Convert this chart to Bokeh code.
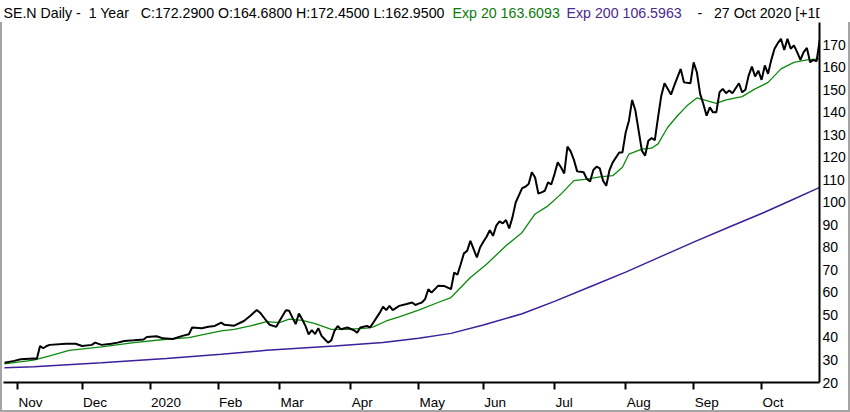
from bokeh.plotting import figure
from bokeh.models import Range1d, FixedTicker, Label
from bokeh.layouts import column
from bokeh.embed import file_html
from bokeh.resources import INLINE

# ---- data (trading-day index from 28 Oct 2019 = 0 to 27 Oct 2020 = 252) ----
close_day = [0, 3, 5, 9, 10, 11, 12, 13, 14, 19, 22, 24, 27, 28, 30, 33, 35, 37, 40, 43, 44, 47, 49, 52, 55, 57, 58, 61, 63, 65,
             67, 68, 71, 74, 76, 78, 79, 81, 82, 84, 85, 87, 88, 89, 90, 91, 92, 93, 94, 95, 96, 97, 98, 99, 100, 101, 102, 103, 104,
             106, 108, 109, 110, 112, 113, 115, 116, 117, 118, 119, 120, 122, 124, 126, 127, 128, 129, 130, 131, 132, 134, 136, 138,
             139, 140, 141, 142, 143, 144, 145, 146, 147, 148, 149, 150, 151, 152, 153, 154, 155, 156, 157, 158, 160, 161, 162, 163,
             164, 165, 166, 167, 168, 169, 170, 171, 172, 173, 174, 175, 176, 177, 178, 179, 180, 181, 182, 183, 184, 185, 186, 187,
             188, 190, 191, 192, 193, 194, 195, 196, 197, 198, 199, 200, 201, 202, 203, 204, 206, 207, 209, 210, 212, 213, 214, 215,
             216, 217, 218, 219, 220, 221, 222, 223, 224, 225, 227, 228, 229, 230, 231, 232, 233, 234, 235, 236, 237, 238, 239, 240,
             241, 242, 243, 244, 245, 246, 247, 248, 249, 250, 251, 252]
close_val = [28.8, 29.6, 30.3, 30.7, 30.5, 36.2, 35.2, 36.2, 36.7, 37.2, 37.2, 36.2, 36.7, 37.7, 36.7, 37.2, 37.7, 38.4, 38.7, 39.1, 40.2, 40.5, 39.6, 39.3, 40.7, 41.4, 44.4, 44.1, 44.7, 45.1,
             46.6, 45.6, 45.2, 47.3, 49.6, 52.2, 51.0, 47.3, 45.6, 44.7, 47.3, 52.1, 51.8, 48.8, 45.9, 50.6, 48.1, 45.2, 41.4, 43.2, 41.5, 44.1, 40.7, 39.2, 37.7, 38.7, 42.9, 45.1, 43.6,
             44.4, 43.2, 42.1, 44.4, 45.1, 44.4, 48.8, 51.0, 53.6, 52.1, 54.0, 52.1, 54.0, 54.7, 55.5, 54.4, 55.0, 55.5, 57.0, 61.4, 59.9, 62.9, 62.8, 61.4,
             68.8, 67.8, 72.5, 77.3, 78.4, 82.9, 79.2, 75.5, 79.9, 82.5, 84.7, 87.6, 85.1, 89.6, 91.5, 90.6, 92.1, 88.4, 93.3, 99.9, 106.3, 106.9, 108.1, 113.3,
             111.0, 103.9, 104.4, 105.1, 108.8, 107.9, 112.5, 117.7, 115.5, 112.8, 124.7, 122.6, 118.8, 113.7, 113.5, 113.3, 110.3, 109.2, 114.3, 115.8, 115.0, 109.6, 107.3, 114.3,
             117.7, 122.1, 122.1, 131.0, 136.2, 145.4, 140.7, 131.8, 122.9, 120.7, 127.3, 128.5, 127.6, 137.7, 147.3, 152.8, 147.8, 151.8, 159.2, 153.2, 152.8, 162.1, 157.7, 148.1,
             143.6, 138.4, 142.1, 139.9, 139.9, 148.8, 150.3, 148.4, 149.6, 148.4, 152.8, 148.8, 149.9, 156.2, 160.2, 155.8, 158.4, 154.3, 160.7, 157.0, 163.2, 168.1, 170.6, 172.5,
             167.6, 172.5, 168.1, 169.6, 166.6, 163.2, 166.6, 168.5, 162.1, 163.2, 162.6, 172.3]

exp20_day = [0, 9, 14, 20, 30, 40, 50, 57, 61, 67, 71, 76, 81, 85, 88, 92, 96, 101, 106, 112, 114, 118, 122, 128, 134, 138,
             144, 149, 155, 160, 164, 168, 172, 176, 180, 184, 188, 191, 193, 197, 200, 202, 205, 208, 211, 214, 217, 220,
             223, 228, 232, 236, 240, 244, 248, 252]
exp20_val = [28.3, 29.9, 31.8, 34.3, 35.8, 37.7, 39.2, 39.9, 41.1, 42.9, 43.6, 45.1, 47.0, 46.6, 48.1, 47.6, 46.1, 43.6, 43.6, 44.1, 44.7, 47.3, 49.1, 52.1, 55.5, 57.7,
             66.6, 72.5, 80.7, 86.6, 94.8, 98.4, 103.6, 109.6, 110.3, 111.3, 111.8, 115.5, 121.4, 123.6, 124.0, 125.9, 133.3, 138.4, 142.9, 146.3, 145.1, 143.9,
             145.4, 146.9, 150.3, 153.2, 159.2, 162.1, 163.2, 163.6]

exp200_day = [0, 9, 30, 50, 67, 81, 102, 117, 128, 138, 148, 160, 170, 181, 192, 203, 213, 224, 234, 243, 252]
exp200_val = [26.6, 27.0, 28.8, 30.7, 32.5, 34.3, 36.2, 37.7, 39.6, 41.8, 45.5, 50.5, 56.0, 62.5, 69.0, 76.0, 82.3, 89.0, 95.0, 100.8, 106.6]

month_day = [4, 24, 45, 66, 85, 107, 128, 148, 170, 192, 213, 234]
month_label = ["Nov", "Dec", "2020", "Feb", "Mar", "Apr", "May", "Jun", "Jul", "Aug", "Sep", "Oct"]
price_ticks = list(range(20, 171, 10))

NB = "\u00a0"
header_parts = [
    (f"SE.N Daily -{NB}{NB}1 Year{NB}{NB}{NB}C:172.2900 O:164.6800 H:172.4500 L:162.9500", "#000000"),
    ("Exp 20 163.6093", "#0b7a0b"),
    ("Exp 200 106.5963", "#4a2a8c"),
    (f"-{NB}{NB}{NB}27 Oct 2020 [+1Day]", "#000000"),
]

FONT = "Liberation Sans"
W, HEAD_H, MAIN_H = 850, 22, 390
X0, X1 = -0.3, 251.9
FRAME_L, FRAME_R, FRAME_B = 3, 31, 30
header_x = [0, 449, 563, 841]
header_align = ["left", "left", "left", "right"]
HEADER_Y = 9.5
LABEL_PX = 13.5

# Arial-metric advance widths (em) used to left-align month labels at their ticks
ADV = {"N": .722, "o": .556, "v": .5, "D": .722, "e": .556, "c": .5, "2": .556, "0": .556, "F": .611,
       "b": .556, "M": .833, "a": .556, "r": .333, "A": .667, "p": .556, "y": .5, "J": .5, "u": .556,
       "n": .556, "l": .222, "g": .556, "S": .667, "O": .778, "t": .278}

# ---- header strip ----
head = figure(width=W, height=HEAD_H, output_backend="svg", toolbar_location=None,
              x_axis_location=None, y_axis_location=None, min_border=0,
              x_range=Range1d(0, W), y_range=Range1d(0, HEAD_H))
head.outline_line_color = None
head.xgrid.visible = False
head.ygrid.visible = False
for (txt, col), hx, al in zip(header_parts, header_x, header_align):
    head.add_layout(Label(x=hx, y=HEADER_Y, x_units="screen", y_units="screen", text=txt,
                          text_font=FONT, text_font_size="14.2px", text_color=col,
                          text_baseline="alphabetic", text_align=al))

# ---- main chart ----
p = figure(width=W, height=MAIN_H, output_backend="svg", toolbar_location=None,
           x_range=Range1d(X0, X1), y_range=Range1d(20, 170 + (44 - HEAD_H) / 2.25),
           y_axis_location="right",
           min_border_left=FRAME_L, min_border_right=FRAME_R, min_border_top=0, min_border_bottom=FRAME_B)
p.styles = {"box-shadow": "inset 2px 0 0 #a4a4a4, inset -2px 0 0 #a4a4a4, inset 0 -2px 0 #a4a4a4"}
p.outline_line_color = None
p.xgrid.visible = False
p.ygrid.visible = False
p.background_fill_color = "white"
p.border_fill_color = None

p.line(exp200_day, exp200_val, line_color="#3c1f9a", line_width=1.5)
p.line(exp20_day, exp20_val, line_color="#0b8a0b", line_width=1.3)
p.line(close_day, close_val, line_color="#000000", line_width=2.0)

# x axis: visible tick marks at month starts (minor ticks), labels placed just right of them
px_per_day = (W - FRAME_L - FRAME_R) / (X1 - X0)
label_pos = []
for d, lab in zip(month_day, month_label):
    w = sum(ADV.get(ch, .556) for ch in lab) * LABEL_PX
    label_pos.append(round(d + (w / 2 + 1) / px_per_day, 4))

xa = p.xaxis[0]
xa.ticker = FixedTicker(ticks=label_pos, minor_ticks=month_day)
xa.major_label_overrides = {pos: lab for pos, lab in zip(label_pos, month_label)}
xa.major_tick_line_color = None
xa.major_tick_in = 0
xa.major_tick_out = 7
xa.minor_tick_in = 0
xa.minor_tick_out = 7
xa.minor_tick_line_width = 2
xa.minor_tick_line_color = "black"
xa.axis_line_width = 2
xa.axis_line_color = "black"
xa.major_label_standoff = 5
xa.major_label_text_font = FONT
xa.major_label_text_font_size = f"{LABEL_PX}px"
xa.major_label_text_color = "black"

ya = p.yaxis[0]
ya.ticker = FixedTicker(ticks=price_ticks)
ya.minor_tick_line_color = None
ya.major_tick_in = 0
ya.major_tick_out = 0
ya.axis_line_width = 2
ya.axis_line_color = "black"
ya.major_label_standoff = 3
ya.major_label_text_font = FONT
ya.major_label_text_font_size = "14px"
ya.major_label_text_color = "black"

layout = column(head, p, spacing=0)
open("out.html", "w").write(file_html(layout, INLINE))
